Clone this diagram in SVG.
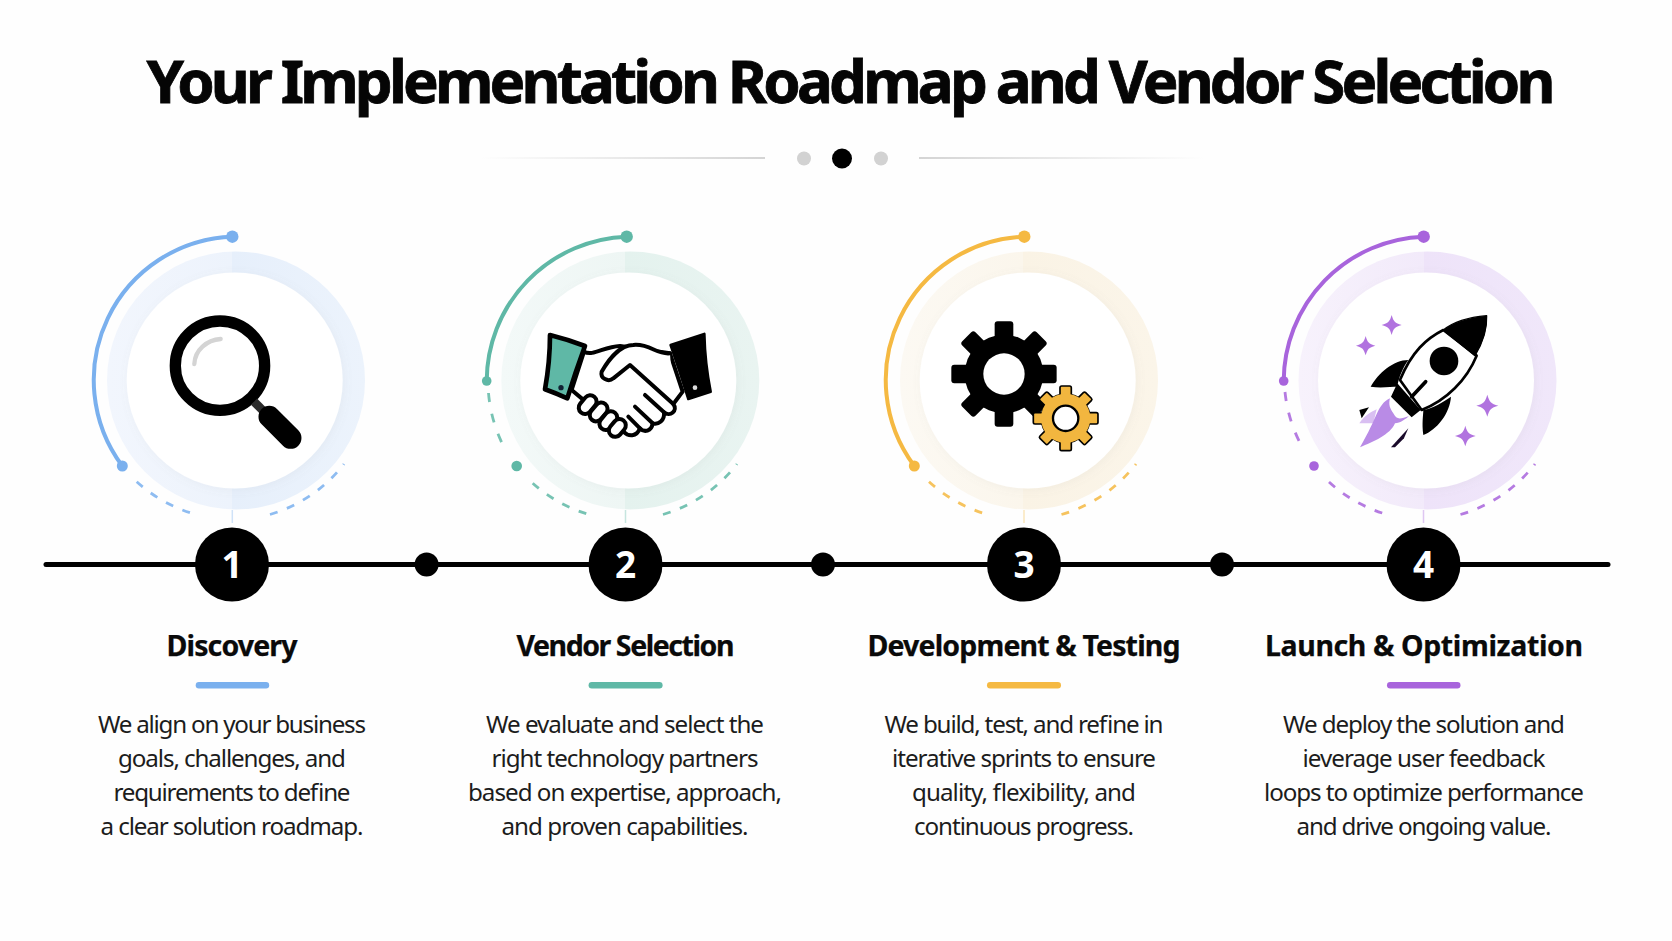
<svg xmlns="http://www.w3.org/2000/svg" xmlns:xlink="http://www.w3.org/1999/xlink" width="1672" height="941" viewBox="0 0 1672 941">
<style>
text{font-family:"Noto Sans","Liberation Sans",sans-serif;text-anchor:middle}
.title{font-size:60px;font-weight:700;fill:#050505;stroke:#050505;stroke-width:.8}
.head{font-size:28.5px;font-weight:700;fill:#0a0a0a;stroke:#0a0a0a;stroke-width:.25}
.body{font-size:24.2px;font-weight:400;fill:#1c1c1c}
.num{font-size:37px;font-weight:700;fill:#fff}
.arc{fill:none;stroke-width:4;stroke-linecap:round}
.dash{fill:none;stroke-width:2.8;stroke-dasharray:8 10;opacity:.85}
.dash2{fill:none;stroke-width:2.8;stroke-dasharray:9 12;opacity:.85}
.stem{stroke-width:1.5;opacity:.35}
.blue{stroke:#7ab0ee}.blueF{fill:#7ab0ee}
.teal{stroke:#5fb8a6}.tealF{fill:#5fb8a6}
.amber{stroke:#f5b942}.amberF{fill:#f5b942}
.purple{stroke:#a864dc}.purpleF{fill:#a864dc}
.ink{stroke:#000;stroke-width:12;stroke-linejoin:round;stroke-linecap:round}
</style>
<defs>
<linearGradient id="r1"><stop offset="0" stop-color="#f2f6fd"/><stop offset=".485" stop-color="#edf3fc"/><stop offset=".485" stop-color="#e6effb"/><stop offset="1" stop-color="#ecf3fc"/></linearGradient>
<linearGradient id="r2"><stop offset="0" stop-color="#f3f9f8"/><stop offset=".48" stop-color="#eef6f4"/><stop offset=".48" stop-color="#e4f2ee"/><stop offset="1" stop-color="#e9f4f1"/></linearGradient>
<linearGradient id="r3"><stop offset="0" stop-color="#fcf9f3"/><stop offset=".475" stop-color="#fbf6ec"/><stop offset=".475" stop-color="#faf3e5"/><stop offset="1" stop-color="#fbf5e9"/></linearGradient>
<linearGradient id="r4"><stop offset="0" stop-color="#f7f2fc"/><stop offset=".485" stop-color="#f2eafa"/><stop offset=".485" stop-color="#eee3f9"/><stop offset="1" stop-color="#f0e7fa"/></linearGradient>
<linearGradient id="fadeL"><stop offset="0" stop-color="#d4d4d4" stop-opacity="0"/><stop offset="1" stop-color="#d4d4d4"/></linearGradient>
<linearGradient id="fadeR"><stop offset="0" stop-color="#d4d4d4"/><stop offset="1" stop-color="#d4d4d4" stop-opacity="0"/></linearGradient>
<filter id="soft" x="-10%" y="-10%" width="120%" height="120%"><feDropShadow dx="1.5" dy="1.5" stdDeviation="4" flood-color="#8a8a8a" flood-opacity=".08"/></filter>
<path id="spark" d="M0 -1C.2 -.32 .32 -.2 1 0C.32 .2 .2 .32 0 1C-.2 .32 -.32 .2 -1 0C-.32 -.2 -.2 -.32 0 -1Z"/>
<rect id="toothB" x="-28" y="-158" width="56" height="56" rx="9"/>
<rect id="toothS" x="-17" y="-97" width="34" height="40" rx="5"/>
</defs>
<rect width="1672" height="941" fill="#fefefe"/>

<g id="title">
<text class="title" x="851" y="103" textLength="1409">Your Implementation Roadmap and Vendor Selection</text>
<rect x="480" y="157" width="285" height="2" fill="url(#fadeL)"/>
<rect x="919" y="157" width="285" height="2" fill="url(#fadeR)"/>
<circle cx="804" cy="158.5" r="7" fill="#d2d2d2"/>
<circle cx="842" cy="158.5" r="10" fill="#000"/>
<circle cx="881" cy="158.5" r="7" fill="#d2d2d2"/>
</g>

<g id="connectors">
<line x1="46" y1="564.5" x2="1608" y2="564.5" stroke="#000" stroke-width="5" stroke-linecap="round"/>
<circle cx="426.6" cy="564.5" r="12" fill="#000"/>
<circle cx="823" cy="564.5" r="12" fill="#000"/>
<circle cx="1222" cy="564.5" r="12" fill="#000"/>
<line class="stem blue" x1="232.3" y1="510" x2="232.3" y2="523"/>
<line class="stem teal" x1="625.5" y1="510" x2="625.5" y2="523"/>
<line class="stem amber" x1="1024" y1="510" x2="1024" y2="523"/>
<line class="stem purple" x1="1423.5" y1="510" x2="1423.5" y2="523"/>
</g>

<g id="node-1">
<circle cx="236" cy="380.5" r="129" fill="url(#r1)"/>
<circle cx="234.7" cy="380.5" r="108" fill="#fff" filter="url(#soft)"/>
<path class="arc blue" d="M232.3 236.7A143.5 143.5 0 0 0 122.3 466"/>
<circle class="blueF" cx="232.3" cy="236.7" r="6.2"/><circle class="blueF" cx="122.3" cy="466" r="5.5"/>
<path class="dash blue" d="M136.7 481.7A146 146 0 0 0 196 514.5"/>
<path class="dash blue" d="M270 514.5A146 146 0 0 0 344 464"/>
<g id="icon-search" transform="translate(60 210) scale(.3333)">
<circle cx="480" cy="467" r="134" fill="#fff" stroke="#000" stroke-width="34"/>
<path d="M403 462C405 420 440 390 482 387" fill="none" stroke="#d4d4d4" stroke-width="13" stroke-linecap="round"/>
<line x1="582" y1="575" x2="625" y2="618" stroke="#2b2b2b" stroke-width="26"/>
<line x1="628" y1="620" x2="692" y2="684" stroke="#000" stroke-width="65" stroke-linecap="round"/>
</g>
<circle cx="232" cy="564.5" r="37" fill="#000"/>
<text class="num" x="232" y="578">1</text>
<text class="head" x="232" y="656" textLength="131">Discovery</text>
<rect class="blueF" x="195.7" y="682" width="73.5" height="6.4" rx="3.2"/>
<text class="body" x="232" y="732.7" textLength="268">We align on your business</text>
<text class="body" x="232" y="766.7" textLength="228">goals, challenges, and</text>
<text class="body" x="232" y="800.7" textLength="237">requirements to define</text>
<text class="body" x="232" y="835" textLength="263">a clear solution roadmap.</text>
</g>

<g id="node-2">
<circle cx="630.3" cy="380.5" r="129" fill="url(#r2)"/>
<circle cx="628.3" cy="380.5" r="108" fill="#fff" filter="url(#soft)"/>
<path class="arc teal" d="M626.7 236.7A145 145 0 0 0 486.7 381"/>
<circle class="tealF" cx="626.7" cy="236.7" r="6.2"/><circle class="tealF" cx="486.7" cy="381" r="4.8"/>
<path class="dash2 teal" d="M488.5 393A145 145 0 0 0 505.5 450"/>
<circle class="tealF" cx="516.7" cy="466" r="5.3"/>
<path class="dash teal" d="M532.7 483.3A146 146 0 0 0 589 514.5"/>
<path class="dash teal" d="M663 514.5A146 146 0 0 0 737 464"/>
<g id="icon-handshake" transform="translate(460 210) scale(.3333)">
<path class="ink" fill="#fff" d="M372 425C400 440 430 410 480 408L630 430L668 545L640 582C655 602 630 622 612 607C615 632 595 645 578 640C575 665 552 668 540 655C530 682 505 680 490 665L365 565L335 540Z"/>
<path class="ink" fill="none" d="M555 555L612 607M525 590L578 640M505 620L540 655"/>
<path class="ink" fill="#fff" d="M630 430C590 435 570 400 520 405C480 405 445 450 425 485C420 505 445 518 460 505L510 465L640 582"/>
<g class="ink" fill="#fff">
<rect x="-31" y="-19" width="62" height="38" rx="19" transform="translate(383 584) rotate(-50)"/>
<rect x="-31" y="-19" width="62" height="38" rx="19" transform="translate(416 606) rotate(-50)"/>
<rect x="-31" y="-19" width="62" height="38" rx="19" transform="translate(445 632) rotate(-50)"/>
<rect x="-29" y="-19" width="58" height="38" rx="19" transform="translate(472 654) rotate(-50)"/>
</g>
<path d="M270 375Q322 388 375 408Q345 490 322 565Q288 550 255 538Q270 455 270 375Z" fill="#5fb8a6" stroke="#000" stroke-width="14" stroke-linejoin="round"/>
<circle cx="303" cy="533" r="8" fill="#123"/>
<path d="M632 405L733 372Q735 460 752 545L685 567Q660 485 632 405Z" fill="#000" stroke="#000" stroke-width="8" stroke-linejoin="round"/>
<circle cx="705" cy="533" r="7" fill="#ddd"/>
</g>
<circle cx="625.5" cy="564.5" r="37" fill="#000"/>
<text class="num" x="625.5" y="578">2</text>
<text class="head" x="625.5" y="656" textLength="218">Vendor Selection</text>
<rect class="tealF" x="588.6" y="682" width="74" height="6.4" rx="3.2"/>
<text class="body" x="625" y="732.7" textLength="278">We evaluate and select the</text>
<text class="body" x="625" y="766.7" textLength="267">right technology partners</text>
<text class="body" x="625" y="800.7" textLength="314">based on expertise, approach,</text>
<text class="body" x="625" y="835" textLength="247">and proven capabilities.</text>
</g>

<g id="node-3">
<circle cx="1029" cy="380.5" r="129" fill="url(#r3)"/>
<circle cx="1027.7" cy="380.5" r="108" fill="#fff" filter="url(#soft)"/>
<path class="arc amber" d="M1024.3 236.7A143.5 143.5 0 0 0 914.3 466"/>
<circle class="amberF" cx="1024.3" cy="236.7" r="6.2"/><circle class="amberF" cx="914.3" cy="466" r="5.5"/>
<path class="dash amber" d="M929 481.7A146 146 0 0 0 987.5 514.5"/>
<path class="dash amber" d="M1061.5 514.5A146 146 0 0 0 1136 464"/>
<g id="icon-gears" transform="translate(860 210) scale(.3333)">
<g transform="translate(432 492)" fill="#000">
<circle r="118"/>
<use xlink:href="#toothB"/><use xlink:href="#toothB" transform="rotate(45)"/><use xlink:href="#toothB" transform="rotate(90)"/><use xlink:href="#toothB" transform="rotate(135)"/><use xlink:href="#toothB" transform="rotate(180)"/><use xlink:href="#toothB" transform="rotate(225)"/><use xlink:href="#toothB" transform="rotate(270)"/><use xlink:href="#toothB" transform="rotate(315)"/>
<circle r="62" fill="#fff"/>
</g>
<g transform="translate(617 625)">
<g fill="#f2b63f" stroke="#000" stroke-width="5">
<circle r="73"/>
<use xlink:href="#toothS"/><use xlink:href="#toothS" transform="rotate(45)"/><use xlink:href="#toothS" transform="rotate(90)"/><use xlink:href="#toothS" transform="rotate(135)"/><use xlink:href="#toothS" transform="rotate(180)"/><use xlink:href="#toothS" transform="rotate(225)"/><use xlink:href="#toothS" transform="rotate(270)"/><use xlink:href="#toothS" transform="rotate(315)"/>
</g>
<circle r="74" fill="#f2b63f"/>
<circle r="38" fill="#fff" stroke="#000" stroke-width="7"/>
</g>
</g>
<circle cx="1024" cy="564.5" r="37" fill="#000"/>
<text class="num" x="1024" y="578">3</text>
<text class="head" x="1024" y="656" textLength="313">Development &amp; Testing</text>
<rect class="amberF" x="987" y="682" width="74" height="6.4" rx="3.2"/>
<text class="body" x="1024" y="732.7" textLength="279">We build, test, and refine in</text>
<text class="body" x="1024" y="766.7" textLength="264">iterative sprints to ensure</text>
<text class="body" x="1024" y="800.7" textLength="224">quality, flexibility, and</text>
<text class="body" x="1024" y="835" textLength="220">continuous progress.</text>
</g>

<g id="node-4">
<circle cx="1427.5" cy="380.5" r="129" fill="url(#r4)"/>
<circle cx="1426" cy="380.5" r="108" fill="#fff" filter="url(#soft)"/>
<path class="arc purple" d="M1423.7 236.7A145 145 0 0 0 1283.7 381"/>
<circle class="purpleF" cx="1423.7" cy="236.7" r="6.2"/><circle class="purpleF" cx="1283.7" cy="381" r="4.8"/>
<path class="dash2 purple" d="M1285 392A145 145 0 0 0 1304.5 451"/>
<circle class="purpleF" cx="1314" cy="466" r="4.8"/>
<path class="dash purple" d="M1329 482A146 146 0 0 0 1387 514.5"/>
<path class="dash purple" d="M1460.5 514.5A146 146 0 0 0 1535 464"/>
<g id="icon-rocket" transform="translate(1260 210) scale(.3333)">
<use class="purpleF" xlink:href="#spark" transform="translate(395 345) scale(30)" opacity=".9"/>
<use class="purpleF" xlink:href="#spark" transform="translate(317 407) scale(29)" opacity=".9"/>
<use class="purpleF" xlink:href="#spark" transform="translate(682 587) scale(33)" opacity=".9"/>
<use class="purpleF" xlink:href="#spark" transform="translate(616 678) scale(31)" opacity=".9"/>
<path d="M298 600L327 592L305 625Z" fill="#000"/>
<path d="M298 640C315 615 335 605 350 598L340 640Z" fill="#d9bff2"/>
<path d="M393 712L445 655L432 685L405 712Z" fill="#1a0a2a"/>
<path d="M390 565C350 585 355 620 300 712C340 695 390 675 405 640C420 640 440 625 447 618C420 628 410 630 400 610C390 595 385 585 390 565Z" fill="#b98be6"/>
<path d="M445 450C400 450 355 490 332 530C360 535 395 530 412 530C415 505 430 470 445 450Z" fill="#000"/>
<path d="M573 560C570 610 530 660 490 675C485 640 490 615 490 600C520 595 550 575 573 560Z" fill="#000"/>
<path d="M550 360C500 385 455 425 420 510L485 600C560 570 620 510 650 437Z" fill="#fff" stroke="#000" stroke-width="8" stroke-linejoin="round"/>
<path d="M680 317C620 322 575 340 550 360L645 437C670 395 682 360 680 317Z" fill="#000" stroke="#000" stroke-width="4" stroke-linejoin="round"/>
<path d="M412 520L482 600L455 622L393 560Z" fill="#000"/>
<circle cx="552" cy="453" r="43" fill="#000"/>
<line x1="497" y1="515" x2="455" y2="560" stroke="#000" stroke-width="11" stroke-linecap="round"/>
</g>
<circle cx="1423.5" cy="564.5" r="37" fill="#000"/>
<text class="num" x="1423.5" y="578">4</text>
<text class="head" x="1424" y="656" textLength="318">Launch &amp; Optimization</text>
<rect class="purpleF" x="1387" y="682" width="73.5" height="6.4" rx="3.2"/>
<text class="body" x="1424" y="732.7" textLength="282">We deploy the solution and</text>
<text class="body" x="1424" y="766.7" textLength="243">ieverage user feedback</text>
<text class="body" x="1424" y="800.7" textLength="320">loops to optimize performance</text>
<text class="body" x="1424" y="835" textLength="255">and drive ongoing value.</text>
</g>
</svg>
